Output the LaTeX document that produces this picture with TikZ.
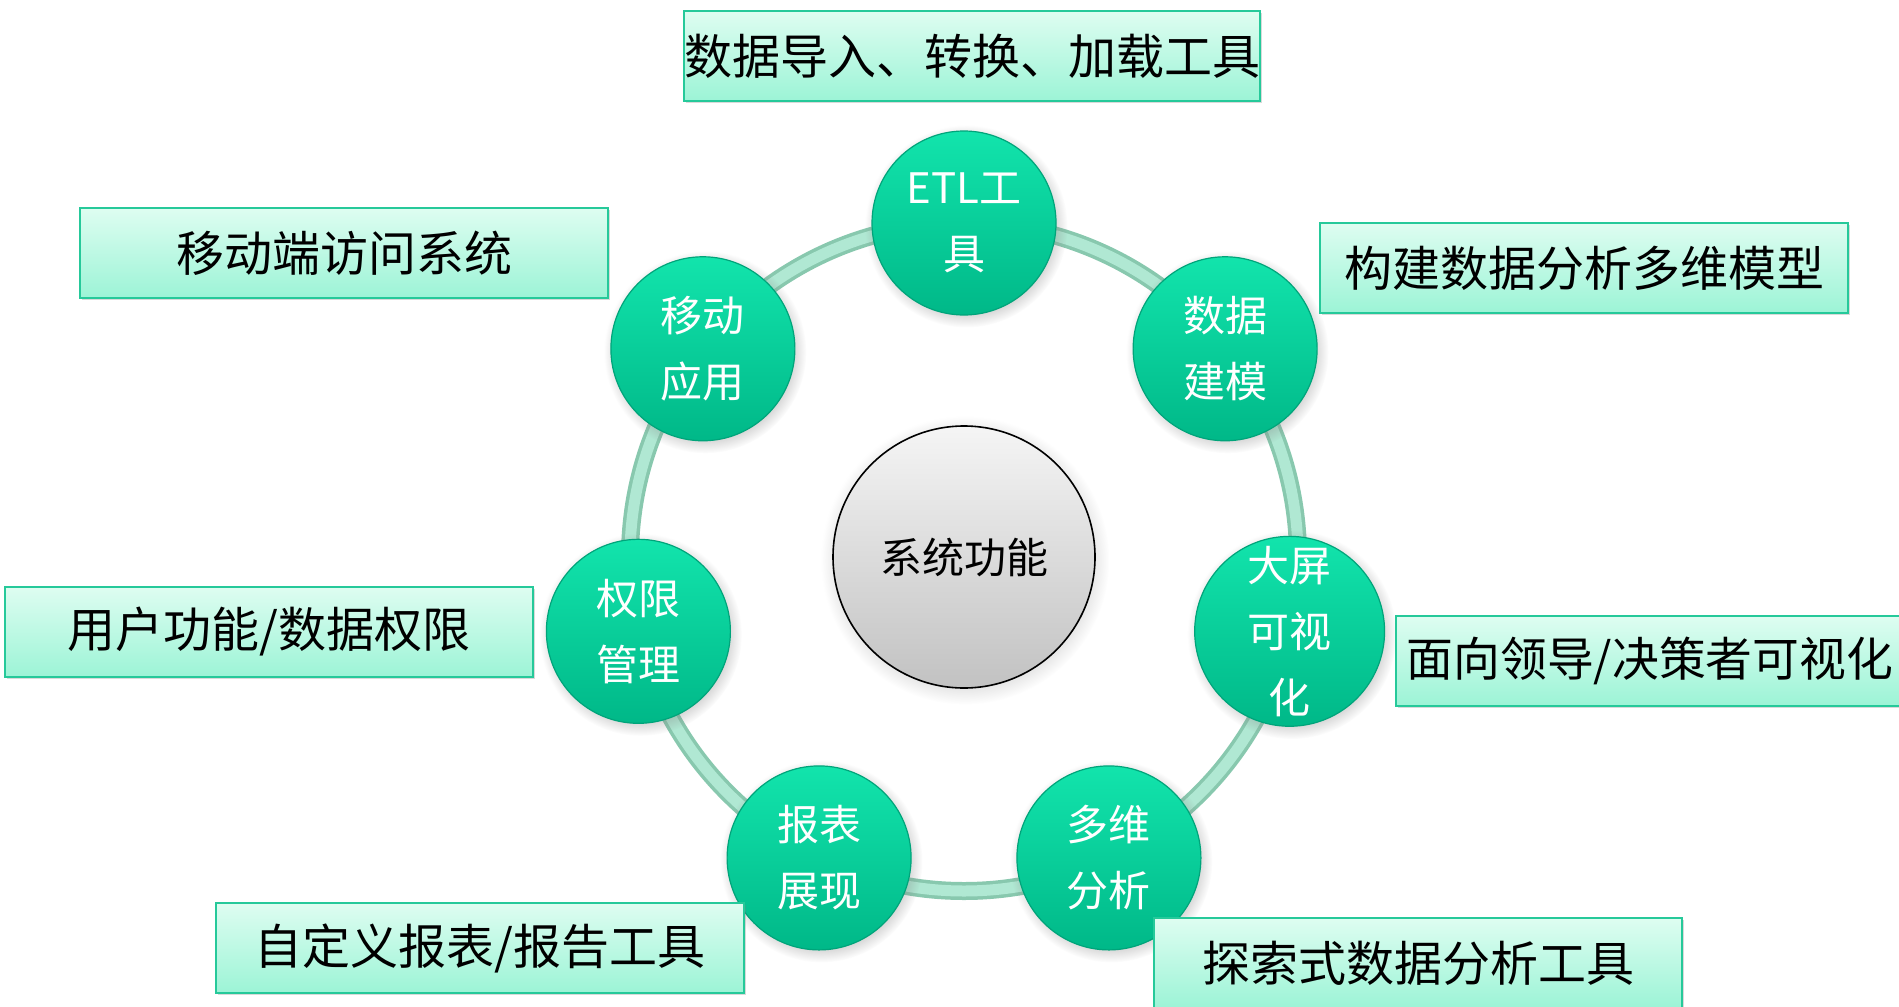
\documentclass[tikz,border=0pt]{standalone}
\usepackage{fontspec}
\setmainfont{Noto Sans CJK SC}
\usetikzlibrary{calc,shadows}

\definecolor{balltop}{HTML}{12E4AC}
\definecolor{ballbot}{HTML}{00B888}
\definecolor{ballline}{HTML}{00A47A}
\definecolor{ringout}{HTML}{88C8AE}
\definecolor{ringin}{HTML}{B0E8D3}
\definecolor{notetop}{HTML}{DEFDF1}
\definecolor{notebot}{HTML}{9CF4D6}
\definecolor{noteline}{HTML}{26C99A}

\begin{document}
\begin{tikzpicture}[x=0.5pt,y=-0.5pt,
  ball/.style={circle,minimum size=92pt,inner sep=0pt,draw=ballline,line width=0.6pt,
    top color=balltop,bottom color=ballbot,text=white,align=center,
    font=\fontsize{21}{33}\selectfont,
    circular drop shadow={shadow xshift=1pt,shadow yshift=-1.5pt,opacity=0.35}},
  hub/.style={circle,minimum size=131pt,inner sep=0pt,draw=black,line width=0.8pt,
    top color=gray!8,bottom color=gray!48,font=\fontsize{21}{25}\selectfont,
    circular drop shadow={shadow xshift=0.5pt,shadow yshift=-1.5pt,opacity=0.25}},
  note/.style={rectangle,draw=noteline,line width=0.9pt,top color=notetop,bottom color=notebot,
    minimum width=264pt,minimum height=45pt,inner sep=0pt,font=\fontsize{24}{28}\selectfont,
    drop shadow={shadow xshift=1pt,shadow yshift=-1.2pt,opacity=0.3}}]

\useasboundingbox (0,0) rectangle (1899,1006);
\coordinate (o) at (964,557);

% ring
\draw[ringout,line width=9pt] (o) circle (334);
\draw[ringin,line width=5.5pt] (o) circle (334);

\node[hub] (hub) at (o) {系统功能};

\foreach \i/\t in {0/{ETL工\\具},1/{数据\\建模},2/{大屏\\可视\\化},3/{多维\\分析},
                   4/{报表\\展现},5/{权限\\管理},6/{移动\\应用}}
  \node[ball] (f\i) at ($(o)+({-90+\i*360/7}:334)$) {\t};

% notes
\node[note,minimum width=288pt] (etl) at (972,56) {数据导入、转换、加载工具};
\node[note] (model) at (1584,268) {构建数据分析多维模型};
\node[note,anchor=west,minimum width=254pt,inner xsep=1.5pt,font=\fontsize{23.4}{28}\selectfont]
  (screen) at (1395,661) {面向领导/决策者可视化};
\node[note] (olap) at (1418,963) {探索式数据分析工具};
\node[note] (report) at (480,948) {自定义报表/报告工具};
\node[note] (auth) at (269,632) {用户功能/数据权限};
\node[note] (mobile) at (344,253) {移动端访问系统};

\end{tikzpicture}
\end{document}
